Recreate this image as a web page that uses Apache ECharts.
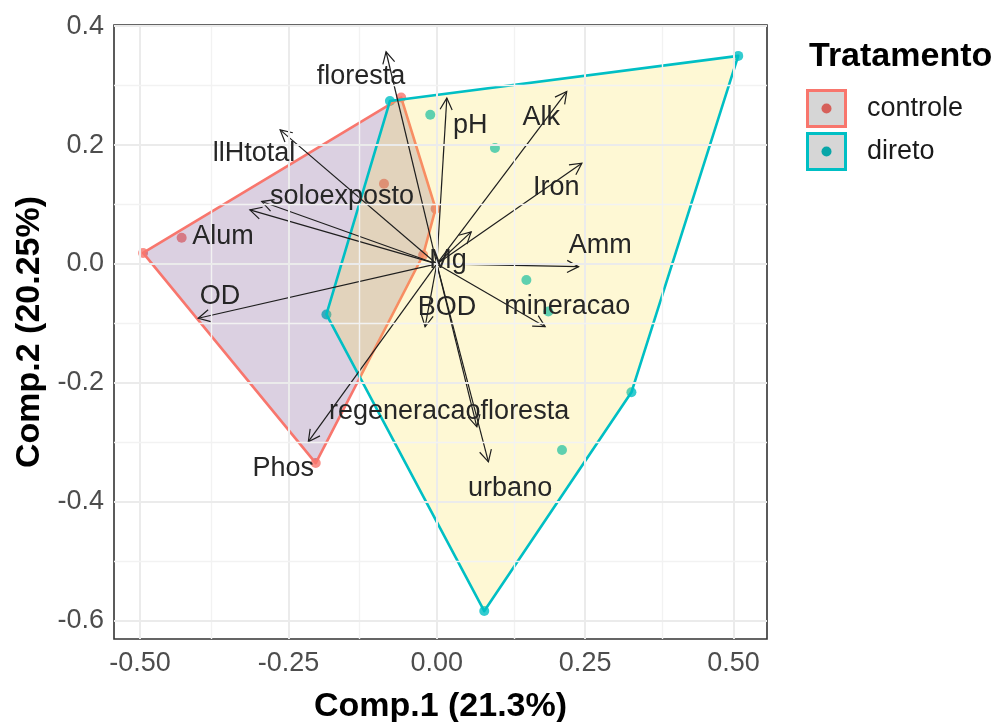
<!DOCTYPE html>
<html>
<head>
<meta charset="utf-8">
<script src="https://cdn.jsdelivr.net/npm/echarts@6/dist/echarts.min.js"></script>
<style>
  html, body { margin: 0; padding: 0; background: #ffffff; }
  #chart { width: 1006px; height: 722px; }
</style>
</head>
<body>
<div id="chart"></div>
<script>
// Axis ticks and grid positions
const xTicks = [-0.5, -0.25, 0, 0.25, 0.5];
const xMinor = [-0.375, -0.125, 0.125, 0.375];
const yTicks = [-0.6, -0.4, -0.2, 0, 0.2, 0.4];
const yMinor = [-0.5, -0.3, -0.1, 0.1, 0.3];
const xRange = [-0.544, 0.5565];
const yRange = [-0.631, 0.402];

// PCA scores, group "controle"
const controleX = [-0.495, -0.430, -0.089, -0.002, -0.060, -0.204, -0.023];
const controleY = [0.0185, 0.044, 0.135, 0.093, 0.280, -0.335, 0.015];
const controleHull = [0, 4, 3, 6, 5];

// PCA scores, group "direto"
const diretoX = [-0.079, -0.011, 0.098, 0.508, 0.151, 0.188, 0.328, 0.211, 0.080, -0.186];
const diretoY = [0.274, 0.251, 0.195, 0.350, -0.027, -0.080, -0.216, -0.313, -0.584, -0.085];
const diretoHull = [0, 3, 6, 8, 9];

// Variable loadings (arrow tips) and where their names sit
const varNames = ['floresta', 'pH', 'Alk', 'llHtotal', 'soloexposto', 'Alum', 'Iron', 'Amm', 'Mg',
                  'OD', 'BOD', 'mineracao', 'regeneracaofloresta', 'urbano', 'Phos'];
const loadX = [-0.0855, 0.0169, 0.219, -0.264, -0.295, -0.315, 0.2445, 0.239, 0.058,
               -0.402, -0.0197, 0.1826, 0.0675, 0.087, -0.2165];
const loadY = [0.357, 0.279, 0.290, 0.2256, 0.105, 0.091, 0.1695, -0.0045, 0.054,
               -0.0914, -0.1055, -0.1055, -0.274, -0.333, -0.299];
const nameX = [-0.1277, 0.0562, 0.1759, -0.3081, -0.1597, -0.3604, 0.2012, 0.2754, 0.0190,
               -0.3654, 0.0174, 0.2199, 0.0207, 0.1236, -0.2589];
const nameY = [0.3148, 0.2323, 0.2458, 0.1852, 0.1128, 0.0455, 0.1279, 0.0303, 0.0051,
               -0.0556, -0.0741, -0.0724, -0.2475, -0.3771, -0.3434];

const groups = ['controle', 'direto'];
const lineColors = ['#F8766D', '#00BFC4'];
const fillColors = ['rgba(90, 40, 120, 0.22)', 'rgba(250, 222, 60, 0.22)'];
const FONT = '"Liberation Sans", Arial, sans-serif';

function pairs(xs, ys) { return xs.map((x, i) => [x, ys[i]]); }
function hullData(xs, ys, idx) { return idx.map(i => [xs[i], ys[i]]); }

function hullSeries(data, k) {
  return {
    type: 'custom', name: groups[k], z: 3, silent: true,
    data: data,
    renderItem: function (params, api) {
      if (params.dataIndex !== 0) return null;
      const pts = data.map(d => api.coord(d));
      return {
        type: 'polygon',
        shape: { points: pts },
        style: { fill: fillColors[k], stroke: lineColors[k], lineWidth: 2.6, lineJoin: 'round' }
      };
    }
  };
}

const major = { color: '#EBEBEB', width: 2, type: 'solid' };
const minor = { color: '#F2F2F2', width: 1.4, type: 'solid' };
const gridLineData = []
  .concat(xTicks.map(v => ({ xAxis: v, lineStyle: major })))
  .concat(xMinor.map(v => ({ xAxis: v, lineStyle: minor })))
  .concat(yTicks.map(v => ({ yAxis: v, lineStyle: major })))
  .concat(yMinor.map(v => ({ yAxis: v, lineStyle: minor })));

const arrowData = varNames.map((n, i) => [loadX[i], loadY[i], n]);
const labelData = varNames.map((n, i) => [nameX[i], nameY[i], n]);

const chart = echarts.init(document.getElementById('chart'), null, { renderer: 'canvas' });

chart.setOption({
  animation: false,
  backgroundColor: '#ffffff',
  grid: {
    left: 114, right: 239, top: 25, bottom: 83,
    containLabel: false, outerBoundsMode: 'none',
    show: true, borderColor: '#333333', borderWidth: 1.6, backgroundColor: 'transparent'
  },
  xAxis: {
    type: 'value', min: xRange[0], max: xRange[1],
    name: 'Comp.1 (21.3%)', nameLocation: 'middle', nameGap: 51,
    nameTextStyle: { fontFamily: FONT, fontSize: 34, fontWeight: 'bold', color: '#000' },
    axisLine: { show: false },
    splitLine: { show: false },
    axisTick: { show: true, customValues: xTicks, length: 5, inside: false,
                lineStyle: { color: '#333333', width: 1.5 } },
    axisLabel: { customValues: xTicks, margin: 11, fontFamily: FONT, fontSize: 27, color: '#4D4D4D',
                 formatter: v => v.toFixed(2) }
  },
  yAxis: {
    type: 'value', min: yRange[0], max: yRange[1],
    name: 'Comp.2 (20.25%)', nameLocation: 'middle', nameGap: 64, nameRotate: 90,
    nameTextStyle: { fontFamily: FONT, fontSize: 34, fontWeight: 'bold', color: '#000' },
    axisLine: { show: false },
    splitLine: { show: false },
    axisTick: { show: true, customValues: yTicks, length: 5,
                lineStyle: { color: '#333333', width: 1.5 } },
    axisLabel: { customValues: yTicks, margin: 10, fontFamily: FONT, fontSize: 27, color: '#4D4D4D',
                 formatter: v => v.toFixed(1) }
  },
  series: [
    {
      type: 'line', data: [], z: 0, silent: true,
      markLine: { silent: true, symbol: 'none', label: { show: false }, animation: false, data: gridLineData }
    },
    {
      type: 'scatter', name: groups[0], z: 2, symbol: 'circle', symbolSize: 10,
      itemStyle: { color: lineColors[0] }, data: pairs(controleX, controleY)
    },
    {
      type: 'scatter', name: groups[1], z: 2, symbol: 'circle', symbolSize: 10,
      itemStyle: { color: lineColors[1] }, data: pairs(diretoX, diretoY)
    },
    hullSeries(hullData(controleX, controleY, controleHull), 0),
    hullSeries(hullData(diretoX, diretoY, diretoHull), 1),
    {
      // loading arrows from the origin with open heads
      type: 'custom', z: 4, silent: true, data: arrowData,
      renderItem: function (params, api) {
        const o = api.coord([0, 0]);
        const t = api.coord([api.value(0), api.value(1)]);
        const ang = Math.atan2(t[1] - o[1], t[0] - o[0]);
        const L = 13, a = Math.PI / 6.5;
        const h1 = [t[0] - L * Math.cos(ang - a), t[1] - L * Math.sin(ang - a)];
        const h2 = [t[0] - L * Math.cos(ang + a), t[1] - L * Math.sin(ang + a)];
        const st = { stroke: '#1E1E1E', lineWidth: 1.2, fill: null };
        return {
          type: 'group',
          children: [
            { type: 'line', shape: { x1: o[0], y1: o[1], x2: t[0], y2: t[1] }, style: st },
            { type: 'polyline', shape: { points: [h1, t, h2] }, style: st }
          ]
        };
      }
    },
    {
      // variable names
      type: 'custom', z: 5, silent: true, data: labelData,
      renderItem: function (params, api) {
        const p = api.coord([api.value(0), api.value(1)]);
        return {
          type: 'text', x: p[0], y: p[1],
          style: { text: labelData[params.dataIndex][2], font: '27px ' + FONT, fill: '#262626',
                   align: 'center', verticalAlign: 'middle' }
        };
      }
    }
  ],
  graphic: [
    {
      type: 'group', left: 806, top: 40,
      children: [
        { type: 'text', x: 3, y: 0, style: { text: 'Tratamento', font: 'bold 34px ' + FONT, fill: '#000' } },
        { type: 'rect', shape: { x: 1.5, y: 50.5, width: 38, height: 36 },
          style: { fill: '#D6D6D6', stroke: lineColors[0], lineWidth: 3 } },
        { type: 'circle', shape: { cx: 20.5, cy: 68.5, r: 5 }, style: { fill: '#D6605A' } },
        { type: 'text', x: 61, y: 55, style: { text: groups[0], font: '27px ' + FONT, fill: '#1A1A1A' } },
        { type: 'rect', shape: { x: 1.5, y: 93.5, width: 38, height: 36 },
          style: { fill: '#D6D6D6', stroke: lineColors[1], lineWidth: 3 } },
        { type: 'circle', shape: { cx: 20.5, cy: 111.5, r: 5 }, style: { fill: '#08A6A8' } },
        { type: 'text', x: 61, y: 98, style: { text: groups[1], font: '27px ' + FONT, fill: '#1A1A1A' } }
      ]
    }
  ]
});
</script>
</body>
</html>
